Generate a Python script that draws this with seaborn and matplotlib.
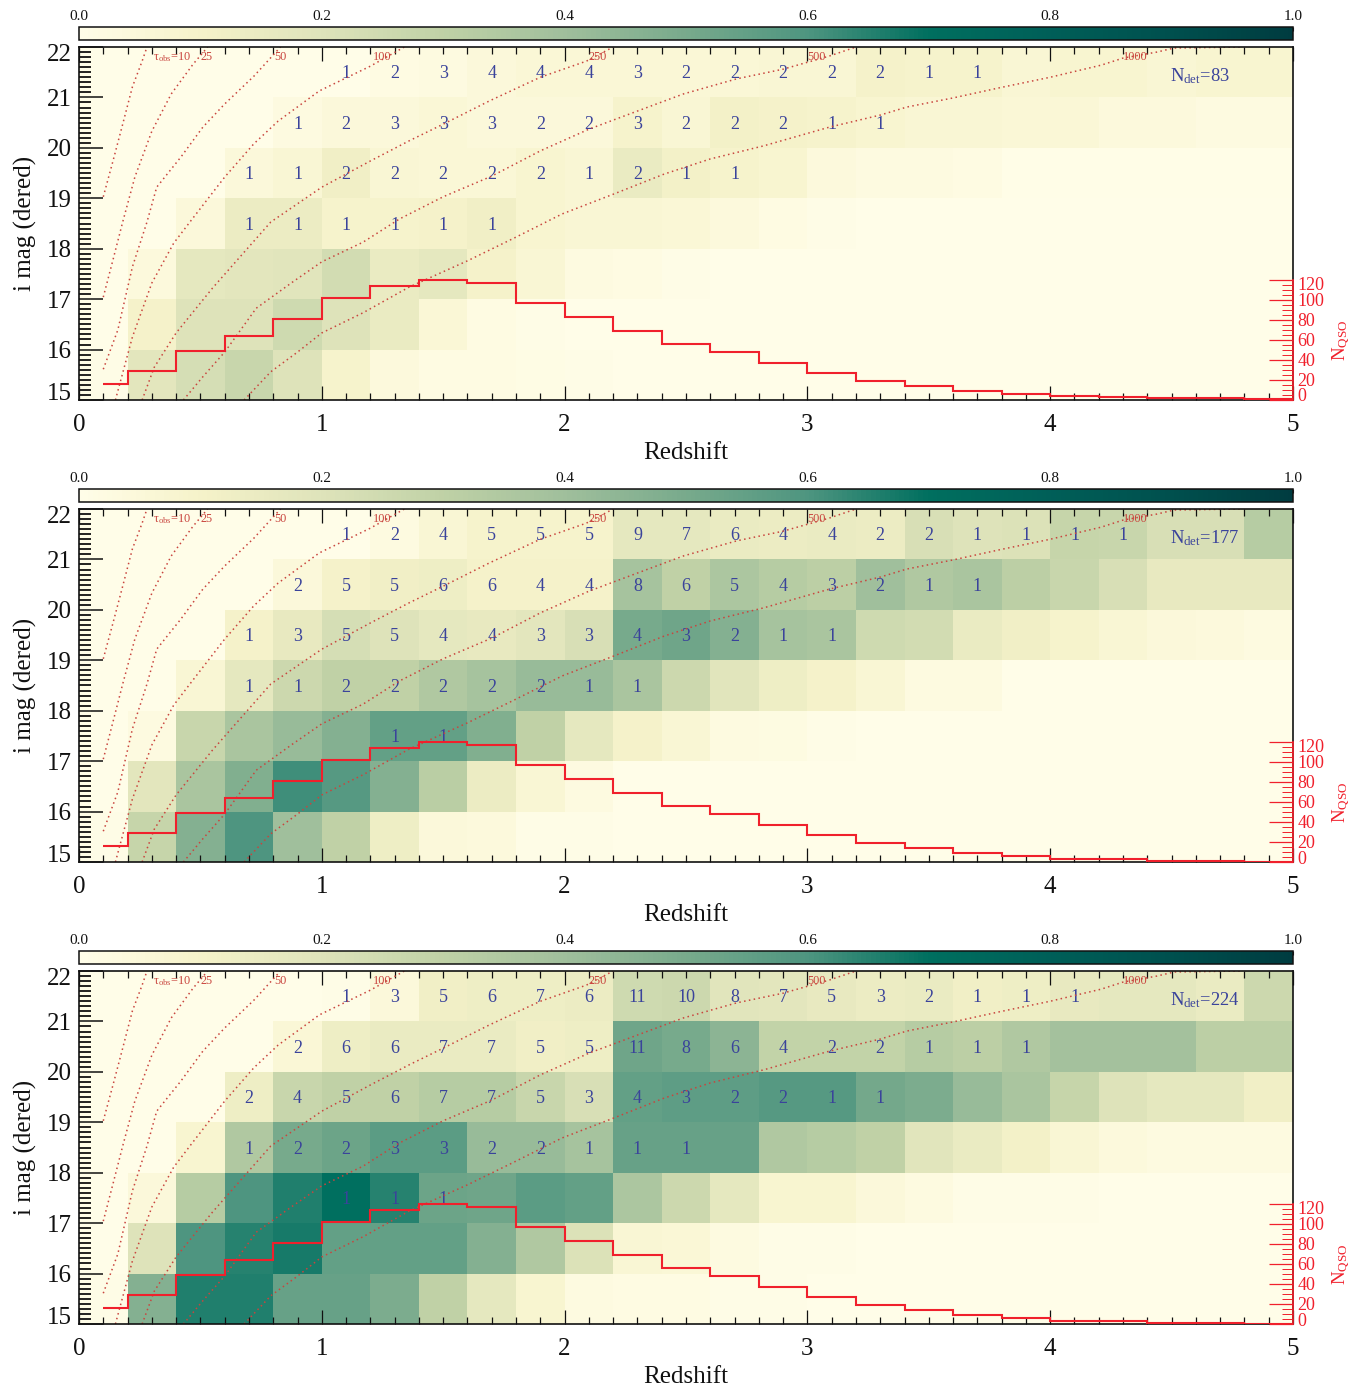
import numpy as np
import seaborn as sns
import matplotlib.pyplot as plt
from matplotlib.colors import LinearSegmentedColormap
from matplotlib.ticker import MultipleLocator
from matplotlib.transforms import ScaledTranslation

sns.set_style('white')
plt.rcParams['font.family'] = ['Liberation Serif', 'DejaVu Serif']
plt.rcParams['mathtext.default'] = 'regular'

W, H = 1364, 1388
X0, AX_W, AX_H = 79, 1214, 353

# colour scale
cbar_stops = [0, .04, .1, .2, .3, .4, .5, .6, .7, .8, .9, 1]
cbar_colors = ['#FFFDE8', '#FCF9DC', '#F5F2C9', '#DEE3BA', '#BFD1A6', '#A0BF9C',
               '#78AA8C', '#4E9580', '#006F5F', '#005F58', '#00504E', '#003C40']

# fraction per cell, rows from i=21-22 down to i=15-16, columns dz=0.2
frac_1 = [
    [0, 0, 0, 0, 0, 0, .02, .03, .05, .06, .06, .06, .06, .06, .07, .07, .10, .09, .09, .07, .08, .08, .07, .08, .08],
    [0, 0, 0, 0, .03, .05, .05, .06, .05, .05, .05, .09, .07, .11, .10, .09, .08, .07, .07, .06, .06, .04, .04, .03, .03],
    [0, 0, 0, .05, .07, .12, .07, .06, .06, .08, .07, .15, .11, .09, .08, .04, .03, .03, .02, .005, .005, .005, .005, .005, .005],
    [0, 0, .05, .14, .14, .09, .09, .10, .12, .08, .07, .07, .06, .04, .02, .01, 0, 0, 0, 0, 0, 0, 0, 0, 0],
    [0, .04, .17, .18, .19, .24, .15, .17, .10, .07, .03, .02, .01, 0, 0, 0, 0, 0, 0, 0, 0, 0, 0, 0, 0],
    [0, .10, .20, .20, .25, .20, .15, .06, .02, .01, 0, 0, 0, 0, 0, 0, 0, 0, 0, 0, 0, 0, 0, 0, 0],
    [.01, .18, .23, .27, .20, .09, .04, .02, .02, .015, .01, 0, 0, 0, 0, 0, 0, 0, 0, 0, 0, 0, 0, 0, 0],
]
frac_2 = [
    [0, 0, 0, 0, 0, 0, .03, .07, .09, .09, .09, .17, .17, .15, .14, .15, .14, .22, .20, .21, .28, .27, .22, .22, .33],
    [0, 0, 0, 0, .05, .10, .12, .13, .10, .10, .10, .38, .30, .36, .33, .31, .40, .35, .37, .31, .27, .22, .16, .16, .16],
    [0, 0, 0, .10, .16, .23, .20, .17, .16, .18, .22, .50, .52, .47, .38, .37, .25, .24, .15, .12, .09, .07, .05, .04, .03],
    [0, 0, .07, .17, .26, .30, .30, .35, .38, .42, .42, .37, .26, .19, .13, .10, .07, .03, .03, 0, 0, 0, 0, 0, 0],
    [0, .03, .27, .37, .42, .47, .55, .55, .48, .30, .17, .10, .07, .03, .025, .01, 0, 0, 0, 0, 0, 0, 0, 0, 0],
    [0, .18, .37, .48, .62, .58, .47, .32, .14, .07, .03, 0, 0, 0, 0, 0, 0, 0, 0, 0, 0, 0, 0, 0, 0],
    [.01, .28, .47, .60, .40, .30, .13, .05, .04, .01, .01, 0, 0, 0, 0, 0, 0, 0, 0, 0, 0, 0, 0, 0, 0],
]
frac_3 = [
    [0, 0, 0, 0, 0, .01, .05, .12, .13, .13, .14, .25, .26, .19, .18, .16, .14, .15, .12, .13, .16, .17, .17, .15, .26],
    [0, 0, 0, 0, .06, .13, .15, .15, .15, .12, .13, .52, .50, .45, .29, .29, .29, .33, .31, .35, .39, .39, .39, .31, .31],
    [0, 0, 0, .13, .27, .30, .30, .33, .33, .27, .22, .55, .56, .56, .58, .58, .51, .49, .42, .37, .28, .20, .17, .17, .12],
    [0, 0, .08, .35, .50, .53, .57, .57, .42, .42, .38, .54, .54, .54, .35, .33, .30, .19, .15, .11, .07, .04, .03, .03, .03],
    [0, .05, .33, .60, .66, .70, .65, .53, .52, .57, .55, .36, .26, .17, .08, .08, .05, .03, .01, .01, .01, 0, 0, 0, 0],
    [0, .20, .60, .65, .67, .55, .55, .55, .47, .35, .21, .07, .06, .03, .01, .01, 0, 0, 0, 0, 0, 0, 0, 0, 0],
    [.01, .47, .66, .66, .54, .54, .49, .30, .17, .08, .03, .02, .02, .01, .01, 0, 0, 0, 0, 0, 0, 0, 0, 0, 0],
]

# detected counts printed in the cells, 0 means nothing printed
num_1 = [
    [0, 0, 0, 0, 0, 1, 2, 3, 4, 4, 4, 3, 2, 2, 2, 2, 2, 1, 1, 0, 0, 0, 0, 0, 0],
    [0, 0, 0, 0, 1, 2, 3, 3, 3, 2, 2, 3, 2, 2, 2, 1, 1, 0, 0, 0, 0, 0, 0, 0, 0],
    [0, 0, 0, 1, 1, 2, 2, 2, 2, 2, 1, 2, 1, 1, 0, 0, 0, 0, 0, 0, 0, 0, 0, 0, 0],
    [0, 0, 0, 1, 1, 1, 1, 1, 1, 0, 0, 0, 0, 0, 0, 0, 0, 0, 0, 0, 0, 0, 0, 0, 0],
]
num_2 = [
    [0, 0, 0, 0, 0, 1, 2, 4, 5, 5, 5, 9, 7, 6, 4, 4, 2, 2, 1, 1, 1, 1, 0, 0, 0],
    [0, 0, 0, 0, 2, 5, 5, 6, 6, 4, 4, 8, 6, 5, 4, 3, 2, 1, 1, 0, 0, 0, 0, 0, 0],
    [0, 0, 0, 1, 3, 5, 5, 4, 4, 3, 3, 4, 3, 2, 1, 1, 0, 0, 0, 0, 0, 0, 0, 0, 0],
    [0, 0, 0, 1, 1, 2, 2, 2, 2, 2, 1, 1, 0, 0, 0, 0, 0, 0, 0, 0, 0, 0, 0, 0, 0],
    [0, 0, 0, 0, 0, 0, 1, 1, 0, 0, 0, 0, 0, 0, 0, 0, 0, 0, 0, 0, 0, 0, 0, 0, 0],
]
num_3 = [
    [0, 0, 0, 0, 0, 1, 3, 5, 6, 7, 6, 11, 10, 8, 7, 5, 3, 2, 1, 1, 1, 0, 0, 0, 0],
    [0, 0, 0, 0, 2, 6, 6, 7, 7, 5, 5, 11, 8, 6, 4, 2, 2, 1, 1, 1, 0, 0, 0, 0, 0],
    [0, 0, 0, 2, 4, 5, 6, 7, 7, 5, 3, 4, 3, 2, 2, 1, 1, 0, 0, 0, 0, 0, 0, 0, 0],
    [0, 0, 0, 1, 2, 2, 3, 3, 2, 2, 1, 1, 1, 0, 0, 0, 0, 0, 0, 0, 0, 0, 0, 0, 0],
    [0, 0, 0, 0, 0, 1, 1, 1, 0, 0, 0, 0, 0, 0, 0, 0, 0, 0, 0, 0, 0, 0, 0, 0, 0],
]
n_det = [83, 177, 224]

# QSO histogram
z_edges = [.1, .2, .4, .6, .8, 1, 1.2, 1.4, 1.6, 1.8, 2, 2.2, 2.4, 2.6, 2.8, 3, 3.2, 3.4, 3.6, 3.8, 4, 4.2, 4.4, 4.6, 4.8, 5]
n_qso = [16, 29, 49, 64, 81, 102, 114, 120, 117, 97, 83, 69, 56, 48, 37, 27, 19, 14, 9, 6, 3.5, 3, 1.5, 1.5, .5]

# lines of constant tau_obs, (z, i mag)
tau_10_z = [.10, .14, .18, .22, .26, .28]
tau_10_i = [19.03, 19.74, 20.47, 21.21, 21.72, 22]
tau_25_z = [.10, .14, .18, .23, .30, .38, .47, .53]
tau_25_i = [17.04, 17.78, 18.53, 19.42, 20.33, 21.07, 21.66, 22]
tau_50_z = [.10, .16, .22, .28, .32, .42, .51, .60, .72, .83]
tau_50_i = [15.61, 16.39, 17.64, 18.53, 19.22, 19.82, 20.41, 20.87, 21.42, 22]
tau_100_z = [.15, .22, .30, .39, .46, .60, .72, .82, .99, 1.20, 1.34]
tau_100_i = [15, 16.25, 17.32, 18.11, 18.55, 19.42, 20.08, 20.53, 21.13, 21.62, 22]
tau_250_z = [.26, .31, .40, .55, .68, .79, 1.00, 1.20, 1.36, 1.50, 1.69, 1.90, 2.09, 2.20]
tau_250_i = [15, 15.65, 16.33, 17.22, 17.93, 18.53, 19.22, 19.74, 20.14, 20.47, 20.93, 21.40, 21.72, 22]
tau_500_z = [.43, .51, .60, .73, .88, 1.00, 1.17, 1.32, 1.50, 1.70, 1.90, 2.10, 2.30, 2.49, 2.71, 2.90, 3.09, 3.20]
tau_500_i = [15, 15.46, 15.95, 16.82, 17.34, 17.74, 18.13, 18.59, 19.03, 19.44, 19.94, 20.37, 20.73, 21.07, 21.37, 21.56, 21.82, 22]
tau_1000_z = [.68, .79, .90, 1.00, 1.17, 1.36, 1.60, 1.80, 1.99, 2.20, 2.41, 2.60, 2.82, 3.09, 3.30, 3.41, 3.60, 3.79, 4.00, 4.21, 4.30, 4.44, 4.51, 4.79]
tau_1000_i = [15, 15.56, 15.95, 16.33, 16.73, 17.24, 17.76, 18.23, 18.69, 19.08, 19.48, 19.78, 20.04, 20.41, 20.65, 20.81, 20.99, 21.19, 21.40, 21.64, 21.78, 21.90, 21.98, 22]
tau_curves = [(tau_10_z, tau_10_i), (tau_25_z, tau_25_i), (tau_50_z, tau_50_i), (tau_100_z, tau_100_i),
              (tau_250_z, tau_250_i), (tau_500_z, tau_500_i), (tau_1000_z, tau_1000_i)]
tau_labels = ['τ$_{obs}$=10', '25', '50', '100', '250', '500', '1000']
tau_label_z = [.305, .50, .805, 1.21, 2.10, 3.0, 4.30]

cmap = LinearSegmentedColormap.from_list('frac', list(zip(cbar_stops, cbar_colors)), N=256)
BLUE = '#3A439B'
RED = '#F0202C'
DOT = '#C9453E'
TXT = '#111111'


def nudge(label, fig, dy_px):
    # first and last labels of an axis sit inside the frame
    label.set_transform(label.get_transform() + ScaledTranslation(0, dy_px / 100, fig.dpi_scale_trans))


def draw_panel(fig, top, frac, num, ndet):
    pos = [X0 / W, 1 - (top + AX_H) / H, AX_W / W, AX_H / H]
    ax_heat = fig.add_axes(pos)
    cax = fig.add_axes([X0 / W, 1 - (top - 7) / H, AX_W / W, 13 / H])

    rows = np.array(num + [[0] * 25] * (7 - len(num)))
    annot = np.array([[str(v) if v else '' for v in r] for r in rows])
    hm = sns.heatmap(np.array(frac), ax=ax_heat, cmap=cmap, vmin=0, vmax=1, cbar_ax=cax,
                     cbar_kws={'orientation': 'horizontal'}, xticklabels=False, yticklabels=False,
                     annot=annot, fmt='', annot_kws={'color': BLUE, 'fontsize': 13})
    for t in ax_heat.texts:
        x, y = t.get_position()
        t.set_position((x, y + .03))

    # colour bar
    cb = hm.collections[0].colorbar
    cb.outline.set_linewidth(1.1)
    cb.outline.set_edgecolor('#111111')
    cax.xaxis.set_ticks_position('top')
    cax.xaxis.set_label_position('top')
    cax.set_xticks(np.arange(0, 1.01, .2), ['%.1f' % v for v in np.arange(0, 1.01, .2)])
    cax.xaxis.set_minor_locator(MultipleLocator(.1))
    cax.tick_params(axis='x', which='major', direction='in', length=3, width=.8, pad=3, labelsize=11, labelcolor=TXT)
    cax.tick_params(axis='x', which='minor', direction='in', length=1.5, width=.8)

    # main frame with real z, i scales
    ax = fig.add_axes(pos, facecolor='none')
    ax.set_xlim(0, 5)
    ax.set_ylim(15, 22)
    for z, i in tau_curves:
        ax.plot(z, i, color=DOT, lw=1.1, ls=(0, (1, 2.2)), clip_on=True)
    for lab, z in zip(tau_labels, tau_label_z):
        ax.text(z, 21.8, lab, color=DOT, fontsize=8.8, ha='left', va='center')
    ax.text(4.495, 21.42, 'N$_{det}$=%d' % ndet, color=BLUE, fontsize=13.3, ha='left', va='center')

    ax.set_xticks(range(6))
    ax.set_yticks(range(15, 23))
    ax.xaxis.set_minor_locator(MultipleLocator(.1))
    ax.yaxis.set_minor_locator(MultipleLocator(.1))
    ax.tick_params(axis='x', which='major', direction='in', top=True, bottom=True, length=10, width=.9, pad=10,
                   labelsize=18, labelcolor=TXT, color='#111111')
    ax.tick_params(axis='x', which='minor', direction='in', top=True, bottom=True, length=5, width=.9, color='#111111')
    ax.tick_params(axis='y', which='major', direction='in', left=True, right=True, length=17.5, width=1.1, pad=5,
                   labelsize=18, labelcolor=TXT, color='#111111')
    ax.tick_params(axis='y', which='minor', direction='in', left=True, right=True, length=8.5, width=1.3, color='#111111')
    for lab, val in zip(ax.get_yticklabels(), range(15, 23)):
        if val == 15:
            nudge(lab, fig, 8)
        elif val == 22:
            nudge(lab, fig, -5.5)
    for s in ax.spines.values():
        s.set_visible(True)
        s.set_linewidth(1.2)
        s.set_color('#111111')
    ax.set_xlabel('Redshift', fontsize=18, color=TXT)
    ax.set_ylabel('i mag (dered)', fontsize=18, color=TXT)
    ax.xaxis.set_label_coords(.5, -.118)
    ax.yaxis.set_label_coords(-.035, .5)

    # QSO counts on the right hand red axis
    ax_n = ax.twinx()
    ax_n.set_ylim(0, AX_H)
    ax_n.stairs(n_qso, z_edges, baseline=None, color=RED, lw=1.5)
    ax_n.set_yticks(range(0, 121, 20))
    ax_n.set_yticks(range(0, 121, 5), minor=True)
    ax_n.tick_params(axis='y', which='major', direction='in', length=17.5, width=.9, pad=3,
                     labelsize=13, color=RED, labelcolor=RED)
    ax_n.tick_params(axis='y', which='minor', direction='in', length=8, width=.7, color=RED)
    for lab, val in zip(ax_n.get_yticklabels(), range(0, 121, 20)):
        if val == 0:
            nudge(lab, fig, 5)
        elif val == 120:
            nudge(lab, fig, -4)
    ax_n.spines['right'].set_bounds(0, 120)
    ax_n.spines['right'].set_color(RED)
    ax_n.spines['right'].set_linewidth(1.2)
    for name in ('left', 'top', 'bottom'):
        ax_n.spines[name].set_visible(False)
    ax_n.text(1.0395, .17, 'N$_{QSO}$', color=RED, fontsize=13.5, rotation=90,
              ha='center', va='center', transform=ax.transAxes)


fig = plt.figure(figsize=(W / 100, H / 100), dpi=100, facecolor='white')
draw_panel(fig, 47, frac_1, num_1, n_det[0])
draw_panel(fig, 509, frac_2, num_2, n_det[1])
draw_panel(fig, 971, frac_3, num_3, n_det[2])
fig.savefig('out.png', dpi=100)
